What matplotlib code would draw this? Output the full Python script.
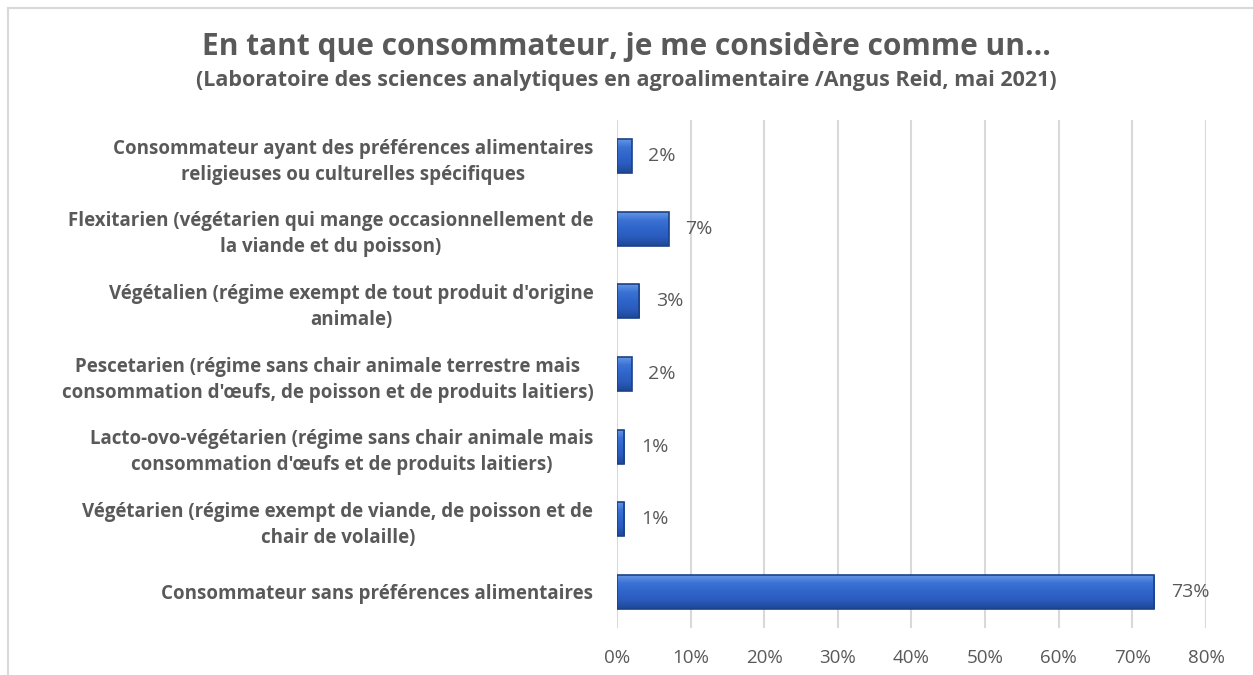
import numpy as np
import matplotlib.pyplot as plt
from matplotlib.lines import Line2D
from matplotlib.colors import LinearSegmentedColormap
from matplotlib.ticker import PercentFormatter

# données (du bas vers le haut)
categories = [
    "Consommateur sans préférences alimentaires",
    "Végétarien (régime exempt de viande, de poisson et de\nchair de volaille)",
    "Lacto-ovo-végétarien (régime sans chair animale mais\nconsommation d'œufs et de produits laitiers)",
    "Pescetarien (régime sans chair animale terrestre mais\nconsommation d'œufs, de poisson et de produits laitiers)",
    "Végétalien (régime exempt de tout produit d'origine\nanimale)",
    "Flexitarien (végétarien qui mange occasionnellement de\nla viande et du poisson)",
    "Consommateur ayant des préférences alimentaires\nreligieuses ou culturelles spécifiques",
]
valeurs = [73, 1, 1, 2, 3, 7, 2]
ticks_x = [0, 10, 20, 30, 40, 50, 60, 70, 80]

titre = "En tant que consommateur, je me considère comme un..."
sous_titre = "(Laboratoire des sciences analytiques en agroalimentaire /Angus Reid, mai 2021)"

plt.rcParams['font.family'] = ['Open Sans', 'DejaVu Sans']
gris = '#595959'

fig = plt.figure(figsize=(12.53, 6.75), dpi=100)
ax = fig.add_axes([0.4924, 0.0696, 0.4701, 0.7526])

pos = range(len(categories))
barres = ax.barh(pos, valeurs, height=0.47, color='#2F63C4', edgecolor='#1B4189',
                 linewidth=1.2, zorder=3)

# effet biseauté : dégradé vertical découpé dans chaque barre
degrade = LinearSegmentedColormap.from_list(
    'biseau', ['#6A9BE6', '#3B72D4', '#2F65CA', '#2A5CBC', '#1E4797'])
grad = np.linspace(0, 1, 64).reshape(-1, 1)
for b in barres:
    x0, y0 = b.get_x(), b.get_y()
    im = ax.imshow(grad, cmap=degrade, aspect='auto', origin='upper',
                   extent=(x0, x0 + b.get_width(), y0, y0 + b.get_height()),
                   zorder=3.5)
    im.set_clip_path(b)
    b.set_facecolor('none')
    b.set_zorder(4)

for y, v in zip(pos, valeurs):
    ax.annotate(f"{v}%", (v, y), xytext=(12, 0), textcoords='offset points',
                va='center', ha='left', fontsize=14, color=gris)

ax.set_xlim(0, 80)
ax.set_ylim(-0.5, len(categories) - 0.5)
ax.set_xticks(ticks_x)
ax.xaxis.set_major_formatter(PercentFormatter(decimals=0))
ax.set_yticks(list(pos))
ax.set_yticklabels(categories, fontsize=13.5, fontweight='bold', color=gris)
for lbl in ax.get_yticklabels():
    lbl.set_multialignment('center')
    lbl.set_linespacing(1.4)
ax.tick_params(axis='x', length=0, labelsize=13.5, labelcolor=gris, pad=15)
ax.tick_params(axis='y', length=0, pad=17)
ax.grid(axis='x', color='#d9d9d9', linewidth=1.5, zorder=0)
for s in ax.spines.values():
    s.set_visible(False)

fig.text(0.5, 0.93, titre, ha='center', va='center', fontsize=21.5,
         fontweight='bold', color=gris)
fig.text(0.5, 0.881, sous_titre, ha='center', va='center', fontsize=15.5,
         fontweight='bold', color=gris)

# cadre du graphique (haut et gauche)
fig.add_artist(Line2D([8 / 1253, 1], [1 - 8 / 675, 1 - 8 / 675],
                      color='#d9d9d9', linewidth=1.5))
fig.add_artist(Line2D([8 / 1253, 8 / 1253], [0, 1 - 8 / 675],
                      color='#d9d9d9', linewidth=1.5))

fig.savefig('out.png', dpi=100)
